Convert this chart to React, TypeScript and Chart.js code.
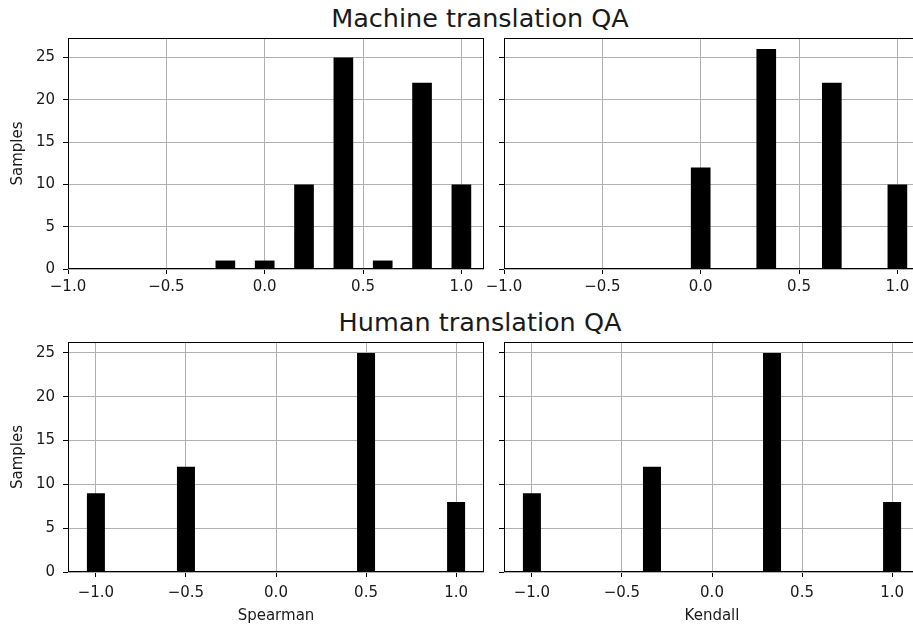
import React, { useEffect, useRef } from 'react';
import { Chart, registerables } from 'chart.js';

Chart.register(...registerables);

// ---------- data ----------
const TITLES = ['Machine translation QA', 'Human translation QA'];
const Y_LABEL = 'Samples';
const X_LABELS = ['Spearman', 'Kendall'];

const X_TICKS = [-1.0, -0.5, 0.0, 0.5, 1.0];
const Y_TICKS = [0, 5, 10, 15, 20, 25];
const BIN_WIDTH = 0.1;

// Machine translation QA
const MT_SPEARMAN_X = [-0.2, 0.0, 0.2, 0.4, 0.6, 0.8, 1.0];
const MT_SPEARMAN_N = [1, 1, 10, 25, 1, 22, 10];
const MT_KENDALL_X = [0.0, 1 / 3, 2 / 3, 1.0];
const MT_KENDALL_N = [12, 26, 22, 10];

// Human translation QA
const HT_SPEARMAN_X = [-1.0, -0.5, 0.5, 1.0];
const HT_SPEARMAN_N = [9, 12, 25, 8];
const HT_KENDALL_X = [-1.0, -1 / 3, 1 / 3, 1.0];
const HT_KENDALL_N = [9, 12, 25, 8];

// axis limits
const MT_X_RANGE = [-1.0, 1.115];
const HT_X_RANGE = [-1.155, 1.155];
const Y_MARGIN = 0.05;

// ---------- styles ----------
const FONT_FAMILY = "'DejaVu Sans', sans-serif";
const TEXT_COLOR = '#1a1a1a';
const GRID_COLOR = '#b0b0b0';
const TICK_FONT = { family: FONT_FAMILY, size: 15 };

const minStep = (arr: number[]) => {
  const s = [...arr].sort((a, b) => a - b);
  let m = Infinity;
  for (let i = 1; i < s.length; i++) m = Math.min(m, s[i] - s[i - 1]);
  return m;
};

const fmtX = (v: number) => (v < 0 ? '\u2212' : '') + Math.abs(v).toFixed(1);

const framePlugin = {
  id: 'frame',
  afterDraw(chart: any) {
    const { ctx, chartArea: a } = chart;
    ctx.save();
    ctx.strokeStyle = '#000';
    ctx.lineWidth = 1;
    const l = Math.round(a.left) + 0.5;
    const t = Math.round(a.top) + 0.5;
    const r = Math.round(a.right) - 0.5;
    const b = Math.round(a.bottom) - 0.5;
    ctx.strokeRect(l, t, r - l, b - t);
    ctx.restore();
  },
};

type PanelCfg = {
  key: string;
  left: number;
  top: number;
  width: number;
  height: number;
  padTop: number;
  padRight: number;
  yWidth: number;
  xHeight: number;
  xTickPad: number;
  xs: number[];
  ns: number[];
  xRange: number[];
  yMax: number;
  showYTicks: boolean;
  yTitle?: string;
  xTitle?: string;
};

const mtMax = Math.max(...MT_SPEARMAN_N, ...MT_KENDALL_N) * (1 + Y_MARGIN);
const htMax = Math.max(...HT_SPEARMAN_N, ...HT_KENDALL_N) * (1 + Y_MARGIN);

const PANELS: PanelCfg[] = [
  { key: 'tl', left: 0, top: 0, width: 494, height: 300, padTop: 38, padRight: 10, yWidth: 68, xHeight: 31, xTickPad: 4,
    xs: MT_SPEARMAN_X, ns: MT_SPEARMAN_N, xRange: MT_X_RANGE, yMax: mtMax, showYTicks: true, yTitle: Y_LABEL },
  { key: 'tr', left: 474, top: 0, width: 446, height: 300, padTop: 38, padRight: 0, yWidth: 30, xHeight: 31, xTickPad: 4,
    xs: MT_KENDALL_X, ns: MT_KENDALL_N, xRange: MT_X_RANGE, yMax: mtMax, showYTicks: false },
  { key: 'bl', left: 0, top: 300, width: 494, height: 326, padTop: 42, padRight: 10, yWidth: 68, xHeight: 54, xTickPad: 7,
    xs: HT_SPEARMAN_X, ns: HT_SPEARMAN_N, xRange: HT_X_RANGE, yMax: htMax, showYTicks: true, yTitle: Y_LABEL, xTitle: X_LABELS[0] },
  { key: 'br', left: 474, top: 300, width: 446, height: 326, padTop: 42, padRight: 0, yWidth: 30, xHeight: 54, xTickPad: 7,
    xs: HT_KENDALL_X, ns: HT_KENDALL_N, xRange: HT_X_RANGE, yMax: htMax, showYTicks: false, xTitle: X_LABELS[1] },
];

function Panel({ cfg }: { cfg: PanelCfg }) {
  const ref = useRef<HTMLCanvasElement | null>(null);
  useEffect(() => {
    if (!ref.current) return;
    const barPct = BIN_WIDTH / Math.min(minStep(cfg.xs), minStep(X_TICKS));
    const gridCommon = {
      color: GRID_COLOR,
      lineWidth: 1,
      offset: false,
      drawTicks: true,
      tickLength: 5,
      tickColor: '#000',
      tickWidth: 1,
    };
    const chart = new Chart(ref.current, {
      type: 'bar',
      data: {
        datasets: [
          {
            data: cfg.xs.map((x, i) => ({ x, y: cfg.ns[i] })),
            backgroundColor: '#000',
            borderWidth: 0,
            barPercentage: barPct,
            categoryPercentage: 1,
          } as any,
        ],
      },
      options: {
        responsive: false,
        animation: false,
        layout: { padding: { top: cfg.padTop, right: cfg.padRight, left: 0, bottom: 0 } },
        plugins: {
          legend: { display: false },
          tooltip: { enabled: false },
          title: { display: false },
        },
        scales: {
          x: {
            type: 'linear',
            min: cfg.xRange[0],
            max: cfg.xRange[1],
            offset: false,
            z: 1,
            afterBuildTicks: (s: any) => {
              s.ticks = X_TICKS.map((v) => ({ value: v }));
            },
            afterFit: (s: any) => {
              s.height = cfg.xHeight;
              s.paddingLeft = 0;
              s.paddingRight = 0;
            },
            grid: gridCommon,
            border: { display: false },
            ticks: {
              font: TICK_FONT,
              color: TEXT_COLOR,
              padding: cfg.xTickPad,
              maxRotation: 0,
              autoSkip: false,
              callback: (v: any) => fmtX(Number(v)),
            },
            title: cfg.xTitle
              ? { display: true, text: cfg.xTitle, font: TICK_FONT, color: TEXT_COLOR, padding: { top: 0, bottom: 1 } }
              : { display: false },
          },
          y: {
            type: 'linear',
            min: 0,
            max: cfg.yMax,
            z: 1,
            afterBuildTicks: (s: any) => {
              s.ticks = Y_TICKS.map((v) => ({ value: v }));
            },
            afterFit: (s: any) => {
              s.width = cfg.yWidth;
            },
            grid: gridCommon,
            border: { display: false },
            ticks: {
              display: cfg.showYTicks,
              font: TICK_FONT,
              color: TEXT_COLOR,
              padding: 8,
              callback: (v: any) => String(v),
            },
            title: cfg.yTitle
              ? { display: true, text: cfg.yTitle, font: TICK_FONT, color: TEXT_COLOR, padding: { top: 9, bottom: 0 } }
              : { display: false },
          },
        },
      } as any,
      plugins: [framePlugin],
    });
    return () => chart.destroy();
  }, []);
  return (
    <canvas
      ref={ref}
      width={cfg.width}
      height={cfg.height}
      style={{ position: 'absolute', left: cfg.left, top: cfg.top, width: cfg.width, height: cfg.height }}
    />
  );
}

const titleStyle = (top: number): React.CSSProperties => ({
  position: 'absolute',
  left: 0,
  width: 960,
  top,
  textAlign: 'center',
  fontFamily: FONT_FAMILY,
  fontSize: 25.5,
  lineHeight: '25px',
  color: TEXT_COLOR,
  whiteSpace: 'nowrap',
});

export default function App() {
  return (
    <div
      style={{
        position: 'absolute',
        left: 0,
        top: 0,
        width: 913,
        height: 626,
        overflow: 'hidden',
        background: '#fff',
      }}
    >
      <div style={titleStyle(5.5)}>{TITLES[0]}</div>
      <div style={titleStyle(309.5)}>{TITLES[1]}</div>
      {PANELS.map((p) => (
        <Panel key={p.key} cfg={p} />
      ))}
    </div>
  );
}
